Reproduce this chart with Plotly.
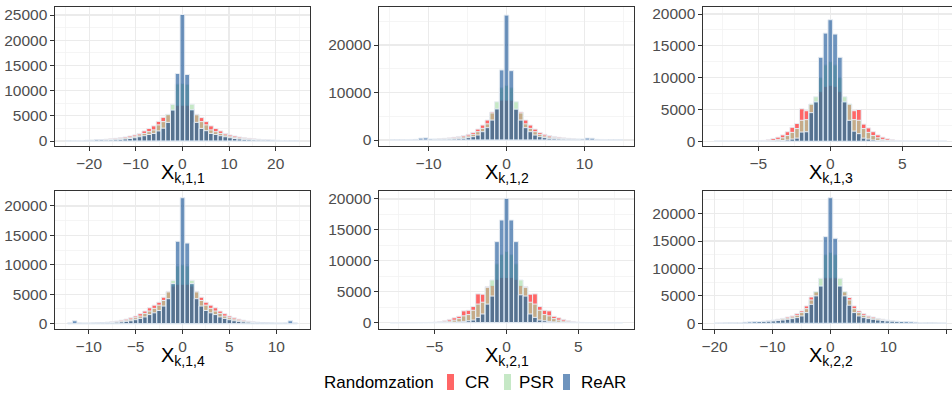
import plotly.graph_objects as go

# ---------------- data (bin counts, bins k=-24..24) ----------------
series_names = ["CR", "PSR", "ReAR"]
panel_titles = ["X<sub>k,1,1</sub>", "X<sub>k,1,2</sub>", "X<sub>k,1,3</sub>",
                "X<sub>k,1,4</sub>", "X<sub>k,2,1</sub>", "X<sub>k,2,2</sub>"]
bin_index = list(range(-24, 25))
bin_widths = [1.02, 0.61, 0.33, 0.5, 0.33, 0.82]

p1_cr = [50, 65, 85, 110, 140, 180, 230, 290, 360, 440, 540, 650, 800, 1000, 1200, 1500, 2000, 2500, 3000, 3900, 4700, 5200, 6100, 7100,
         7100, 7100, 6100, 5300, 4650, 3850, 3000, 2500, 2000, 1500, 1200, 1000, 800, 650, 540, 440, 360, 290, 230, 180, 140, 110, 85, 65, 50]
p1_psr = [35, 45, 60, 75, 95, 120, 150, 190, 240, 300, 380, 470, 600, 750, 950, 1200, 1500, 1850, 2200, 3200, 3850, 5300, 7250, 11300,
          11400, 11200, 7300, 5200, 3850, 3200, 2200, 1850, 1500, 1200, 950, 750, 600, 470, 380, 300, 240, 190, 150, 120, 95, 75, 60, 45, 35]
p1_rear = [70, 80, 90, 100, 130, 150, 230, 220, 180, 200, 250, 320, 400, 500, 650, 850, 1050, 1300, 1500, 2000, 2550, 3700, 6150, 13400,
           25100, 13200, 6200, 3700, 2500, 2050, 1500, 1300, 1050, 850, 650, 500, 400, 320, 250, 200, 170, 160, 180, 150, 120, 100, 90, 80, 70]

p2_cr = [20, 25, 35, 45, 60, 80, 100, 130, 170, 220, 280, 360, 450, 580, 750, 950, 1200, 1600, 2300, 3150, 4200, 5900, 6500, 8400,
         8400, 8400, 6500, 5900, 4200, 3150, 2300, 1600, 1200, 950, 750, 580, 450, 360, 280, 220, 170, 130, 100, 80, 60, 45, 35, 25, 20]
p2_psr = [20, 25, 30, 40, 50, 60, 80, 100, 120, 150, 190, 240, 300, 380, 500, 650, 850, 1200, 1750, 2450, 3400, 5700, 8050, 11000,
          11500, 11000, 8050, 5700, 3400, 2450, 1750, 1200, 850, 650, 500, 380, 300, 240, 190, 150, 120, 100, 80, 60, 50, 40, 30, 25, 20]
p2_rear = [50, 60, 80, 100, 120, 150, 400, 450, 200, 150, 150, 160, 180, 220, 280, 350, 500, 700, 1050, 1750, 2600, 4200, 6550, 14750,
           26300, 14600, 6500, 4200, 2600, 1750, 1050, 700, 500, 350, 280, 220, 180, 160, 150, 150, 200, 420, 380, 150, 120, 100, 80, 60, 50]

p3_cr = [1, 2, 3, 5, 8, 12, 20, 30, 50, 80, 140, 250, 450, 650, 1000, 1500, 2200, 2800, 5100, 4800, 5800, 6100, 7800, 8600,
         8800, 8600, 7800, 6100, 5800, 4800, 5000, 2700, 2100, 1500, 1000, 650, 400, 250, 140, 80, 50, 30, 20, 12, 8, 5, 3, 2, 1]
p3_psr = [1, 2, 2, 3, 4, 6, 8, 12, 20, 30, 50, 90, 160, 300, 550, 900, 1400, 2000, 3300, 3400, 5850, 7000, 10000, 12000,
          12500, 12000, 10000, 7000, 5850, 3400, 3300, 2000, 1400, 900, 550, 300, 160, 90, 50, 30, 20, 12, 8, 6, 4, 3, 2, 2, 1]
p3_rear = [1, 2, 2, 3, 4, 5, 6, 8, 10, 15, 20, 30, 50, 80, 120, 200, 350, 500, 1450, 1500, 4500, 6200, 13200, 17000,
           19100, 16850, 13200, 6200, 3300, 1600, 1200, 500, 350, 200, 120, 80, 50, 30, 20, 15, 10, 8, 6, 5, 4, 3, 2, 2, 1]

p4_cr = [20, 30, 45, 60, 80, 110, 150, 200, 270, 350, 450, 600, 780, 1000, 1300, 1700, 2150, 2700, 3150, 3650, 4500, 5500, 6400, 6700,
         6700, 6700, 6400, 5500, 4500, 3650, 3150, 2700, 2150, 1700, 1300, 1000, 780, 600, 450, 350, 270, 200, 150, 110, 80, 60, 45, 30, 20]
p4_psr = [20, 25, 35, 45, 60, 80, 110, 150, 190, 250, 330, 450, 600, 780, 1020, 1300, 1750, 2150, 2600, 3150, 3950, 5400, 7350, 9800,
          10000, 9800, 7350, 5400, 3950, 3150, 2600, 2150, 1750, 1300, 1020, 780, 600, 450, 330, 250, 190, 150, 110, 80, 60, 45, 35, 25, 20]
p4_rear = [150, 500, 150, 130, 130, 140, 150, 160, 180, 200, 250, 300, 400, 500, 680, 900, 1150, 1550, 1850, 2250, 3000, 4250, 6800, 14000,
           21400, 13700, 6800, 4250, 3000, 2250, 1850, 1550, 1150, 900, 680, 500, 400, 300, 250, 200, 180, 160, 150, 140, 130, 130, 150, 500, 150]

p5_cr = [1, 1, 2, 3, 5, 8, 12, 20, 40, 80, 150, 300, 530, 780, 1030, 1900, 2000, 2600, 4650, 4600, 5850, 6000, 7000, 7300,
         7300, 7300, 7000, 6000, 5850, 4600, 4650, 2600, 2000, 1900, 1030, 780, 530, 300, 150, 80, 40, 20, 12, 8, 5, 3, 2, 1, 1]
p5_psr = [1, 1, 2, 3, 4, 5, 8, 12, 20, 40, 80, 150, 250, 400, 650, 1100, 1300, 2000, 3000, 3300, 5700, 6900, 9500, 11000,
          11500, 11000, 9500, 6900, 5700, 3300, 3000, 2000, 1300, 1100, 650, 400, 250, 150, 80, 40, 20, 12, 8, 5, 4, 3, 2, 1, 1]
p5_rear = [1, 1, 2, 2, 3, 4, 5, 6, 8, 10, 15, 25, 40, 70, 120, 200, 300, 420, 850, 1400, 3000, 4300, 13100, 16600,
           20100, 16600, 13100, 4500, 4300, 1400, 850, 420, 300, 200, 120, 70, 40, 25, 15, 10, 8, 6, 5, 4, 3, 2, 2, 1, 1]

p6_cr = [20, 30, 45, 60, 80, 100, 140, 180, 230, 300, 380, 480, 600, 750, 900, 1150, 1340, 1760, 2250, 3160, 4800, 5700, 6700, 8300,
         8300, 8300, 6700, 5700, 4700, 3160, 2250, 1760, 1340, 1150, 900, 750, 600, 480, 380, 300, 230, 180, 140, 100, 80, 60, 45, 30, 20]
p6_psr = [20, 30, 40, 50, 70, 90, 120, 160, 210, 270, 340, 420, 520, 650, 800, 950, 1150, 1460, 1950, 2670, 4250, 5800, 8200, 12500,
          12900, 12500, 8200, 5800, 4250, 2670, 1950, 1460, 1150, 950, 800, 650, 520, 420, 340, 270, 210, 160, 120, 90, 70, 50, 40, 30, 20]
p6_rear = [50, 60, 80, 100, 120, 150, 200, 250, 300, 330, 350, 380, 420, 500, 600, 730, 850, 1030, 1340, 1950, 3460, 5000, 6800, 15800,
           22900, 15500, 6800, 5000, 3300, 1950, 1340, 1030, 850, 730, 600, 500, 420, 380, 350, 330, 300, 250, 200, 150, 120, 100, 80, 60, 50]

panels = [
    (p1_cr, p1_psr, p1_rear),
    (p2_cr, p2_psr, p2_rear),
    (p3_cr, p3_psr, p3_rear),
    (p4_cr, p4_psr, p4_rear),
    (p5_cr, p5_psr, p5_rear),
    (p6_cr, p6_psr, p6_rear),
]

x_tick_vals = [[-20, -10, 0, 10, 20], [-10, 0, 10], [-5, 0, 5],
               [-10, -5, 0, 5, 10], [-5, 0, 5], [-20, -10, 0, 10, 20]]
y_tick_vals = [[0, 5000, 10000, 15000, 20000, 25000], [0, 10000, 20000],
               [0, 5000, 10000, 15000, 20000], [0, 5000, 10000, 15000, 20000],
               [0, 5000, 10000, 15000, 20000], [0, 5000, 10000, 15000, 20000]]

# ---------------- styling ----------------
W, H = 952, 394
fills = ["rgba(255,0,0,0.6)", "rgba(160,217,160,0.6)", "rgba(13,77,147,0.6)"]
key_fills = ["rgb(255,102,102)", "rgb(198,232,198)", "rgb(110,148,190)"]
outline = "rgb(232,237,243)"
font_family = "Liberation Sans, Arial, sans-serif"

col_x = [(55, 310), (379, 634), (703, 952)]
row_y = [(7, 146), (191, 329)]
x_ranges = [[-27.3, 27.35], [-16.35, 16.35], [-8.84, 8.45],
            [-13.6, 13.6], [-8.87, 8.87], [-22.0, 21.0]]
y_ranges = [[-990, 26590], [-1260, 28000], [-740, 21100],
            [-900, 22540], [-1030, 21290], [-1040, 24120]]
x_minor = [5, 5, 2.5, 2.5, 2.5, 5]
y_minor = [2500, 5000, 2500, 2500, 2500, 2500]

fig = go.Figure()
layout = dict(width=W, height=H, margin=dict(l=0, r=0, t=0, b=0, autoexpand=False),
              paper_bgcolor="white", plot_bgcolor="white",
              barmode="overlay", showlegend=False,
              font=dict(family=font_family))
annotations = []
shapes = []

for i, series in enumerate(panels):
    r, c = divmod(i, 3)
    ax = "" if i == 0 else str(i + 1)
    w = bin_widths[i]
    centers = [k * w for k in bin_index]
    for s, vals in enumerate(series):
        fig.add_trace(go.Bar(
            x=centers, y=vals, width=w, name=series_names[s],
            marker=dict(color=fills[s], line=dict(color=outline, width=1)),
            xaxis="x" + ax, yaxis="y" + ax, showlegend=False))
    x0, x1 = col_x[c]
    y0, y1 = row_y[r]
    grid = dict(showgrid=True, gridcolor="#EBEBEB", gridwidth=1.1, zeroline=False,
                showline=True, linecolor="#333333", linewidth=1.1,
                ticks="outside", ticklen=3.5, tickcolor="#333333", tickwidth=1,
                automargin=False,
                tickfont=dict(size=15.5, color="#4D4D4D", family=font_family))
    layout["xaxis" + ax] = dict(grid, domain=[x0 / W, x1 / W], range=x_ranges[i],
                                anchor="y" + ax, tickvals=x_tick_vals[i],
                                ticktext=[str(v).replace("-", "\u2212") for v in x_tick_vals[i]],
                                mirror=True,
                                minor=dict(dtick=x_minor[i], tick0=0, showgrid=True,
                                           gridcolor="#F2F2F2", gridwidth=0.8, ticks=""))
    layout["yaxis" + ax] = dict(grid, domain=[1 - y1 / H, 1 - y0 / H], range=y_ranges[i],
                                anchor="x" + ax, tickvals=y_tick_vals[i],
                                ticktext=[str(v) for v in y_tick_vals[i]],
                                mirror=(c != 2),
                                minor=dict(dtick=y_minor[i], tick0=0, showgrid=True,
                                           gridcolor="#F2F2F2", gridwidth=0.8, ticks=""))
    annotations.append(dict(text=panel_titles[i], x=(x0 + (958 if c == 2 else x1)) / 2 / W,
                            y=1 - (y1 + 27) / H, xref="paper", yref="paper",
                            xanchor="center", yanchor="middle", showarrow=False,
                            font=dict(size=20, color="black", family=font_family)))

# ---------------- custom legend ----------------
leg_y = 382
annotations.append(dict(text="Randomzation", x=322 / W, y=1 - leg_y / H, xref="paper", yref="paper",
                        xanchor="left", yanchor="middle", showarrow=False,
                        font=dict(size=17, color="black", family=font_family)))
key_x = [447, 504, 563]
text_x = [463, 517, 579]
for s in range(3):
    shapes.append(dict(type="rect", xref="paper", yref="paper",
                       x0=key_x[s] / W, x1=(key_x[s] + 7) / W,
                       y0=1 - (leg_y + 8) / H, y1=1 - (leg_y - 8) / H,
                       fillcolor=key_fills[s], line=dict(width=0)))
    annotations.append(dict(text=series_names[s], x=text_x[s] / W, y=1 - leg_y / H,
                            xref="paper", yref="paper", xanchor="left", yanchor="middle",
                            showarrow=False, font=dict(size=17, color="black", family=font_family)))

layout["annotations"] = annotations
layout["shapes"] = shapes
fig.update_layout(**layout)
fig.write_html("out.html", config={"displayModeBar": False, "staticPlot": True},
               post_script="document.body.style.margin='0px';")
